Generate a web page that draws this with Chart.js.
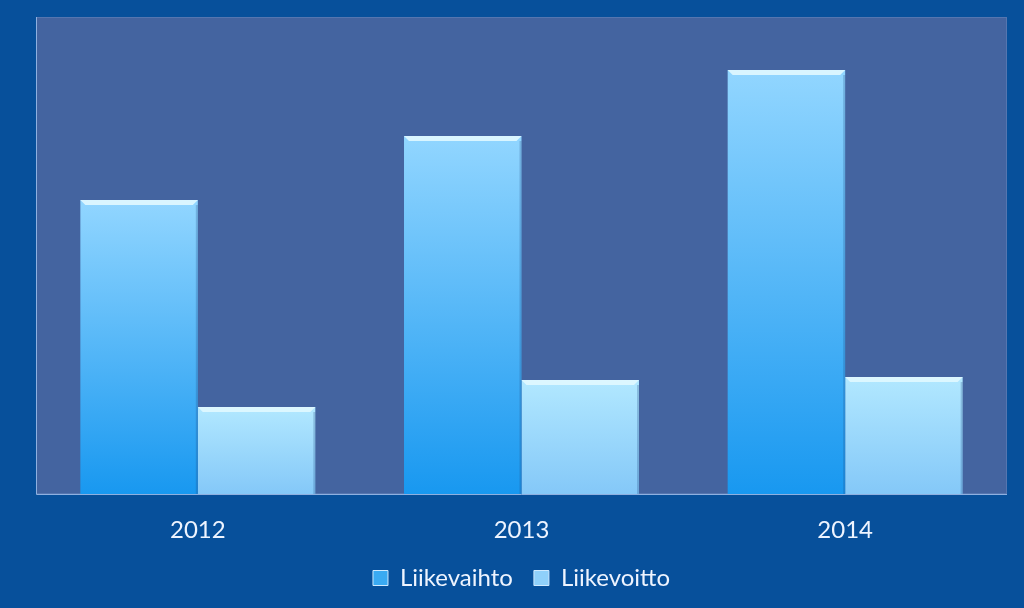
<!DOCTYPE html>
<html>
<head>
<meta charset="utf-8">
<script src="https://cdn.jsdelivr.net/npm/chart.js@4"></script>
<style>
  html, body { margin: 0; padding: 0; background: #07509b; }
  #wrap { width: 1024px; height: 608px; }
</style>
</head>
<body>
<div id="wrap"><canvas id="grafico" width="1024" height="608"></canvas></div>
<script>
// dati (scala relativa)
const anni = ['2012', '2013', '2014'];
const liikevaihto = [294, 358, 424];
const liikevoitto = [87, 114, 117];
const nomiSerie = ['Liikevaihto', 'Liikevoitto'];
const yMax = 477;

// gradiente verticale per ogni singola barra
function gradienteBarra(c, top, bottom, fallback) {
    const chart = c.chart;
    if (!chart.chartArea || c.raw === undefined) return fallback;
    const y = chart.scales.y;
    const y0 = y.getPixelForValue(c.raw), y1 = y.getPixelForValue(0);
    if (!isFinite(y0) || !isFinite(y1) || y1 - y0 < 1) return fallback;
    let g = chart.ctx.createLinearGradient(0, y0, 0, y1);
    g.addColorStop(0, top);
    g.addColorStop(1, bottom);
    return g;
}

// sfondo dell'area del grafico + bordo
const sfondoArea = {
    id: 'sfondoArea',
    beforeDraw(chart) {
        const { ctx, chartArea: a } = chart;
        ctx.save();
        ctx.fillStyle = '#4464a0';
        ctx.fillRect(a.left, a.top, a.right - a.left, a.bottom - a.top);
        ctx.strokeStyle = '#5576b0';
        ctx.lineWidth = 1;
        ctx.strokeRect(a.left + 0.5, a.top + 0.5, a.right - a.left - 1, a.bottom - a.top - 1);
        ctx.strokeStyle = '#8fb0e0';
        ctx.beginPath();
        ctx.moveTo(a.left + 0.5, a.top);
        ctx.lineTo(a.left + 0.5, a.bottom + 0.5);
        ctx.lineTo(a.right, a.bottom + 0.5);
        ctx.stroke();
        ctx.restore();
    },
    // bordo chiaro in alto sulle barre (effetto smusso)
    afterDatasetsDraw(chart) {
        const ctx = chart.ctx;
        ctx.save();
        chart.data.datasets.forEach((ds, i) => {
            chart.getDatasetMeta(i).data.forEach(bar => {
                const l = bar.x - bar.width / 2, r = bar.x + bar.width / 2;
                ctx.fillStyle = 'rgba(225,248,255,0.9)';
                ctx.beginPath();
                ctx.moveTo(l, bar.y);
                ctx.lineTo(r, bar.y);
                ctx.lineTo(r - 5, bar.y + 5);
                ctx.lineTo(l + 5, bar.y + 5);
                ctx.closePath();
                ctx.fill();
                ctx.fillStyle = 'rgba(30,70,130,0.25)';
                ctx.fillRect(r - 2, bar.y + 5, 2, bar.base - bar.y - 5);
            });
        });
        ctx.restore();
    }
};

const coloriLegenda = ['#3aaaf2', '#8fd0fa'];

new Chart('grafico', {
    type: 'bar',
    data: {
        labels: anni,
        datasets: [{
            label: nomiSerie[0],
            data: liikevaihto,
            backgroundColor: c => gradienteBarra(c, '#92d6ff', '#1898f0', '#3aaaf2')
        }, {
            label: nomiSerie[1],
            data: liikevoitto,
            backgroundColor: c => gradienteBarra(c, '#b2e8ff', '#84c8f8', '#8fd0fa')
        }]
    },
    options: {
        responsive: false,
        animation: false,
        layout: { padding: { left: 36, right: 17, top: 17, bottom: 8 } },
        datasets: { bar: { categoryPercentage: 0.726, barPercentage: 1 } },
        scales: {
            x: {
                grid: { display: false },
                border: { display: false },
                ticks: { color: '#eef4ff', font: { family: 'Lato', size: 24 }, padding: 14 },
                afterFit: scale => { scale.height = 51; }
            },
            y: { display: false, min: 0, max: yMax }
        },
        plugins: {
            legend: {
                position: 'bottom',
                labels: {
                    color: '#eef4ff',
                    font: { family: 'Lato', size: 24 },
                    boxWidth: 15, boxHeight: 15, padding: 21,
                    generateLabels: chart => chart.data.datasets.map((ds, i) => ({
                        text: ds.label, fillStyle: coloriLegenda[i], strokeStyle: '#cfeaff',
                        lineWidth: 1, datasetIndex: i, fontColor: '#eef4ff'
                    }))
                }
            },
            tooltip: { enabled: false }
        }
    },
    plugins: [sfondoArea]
});
</script>
</body>
</html>
